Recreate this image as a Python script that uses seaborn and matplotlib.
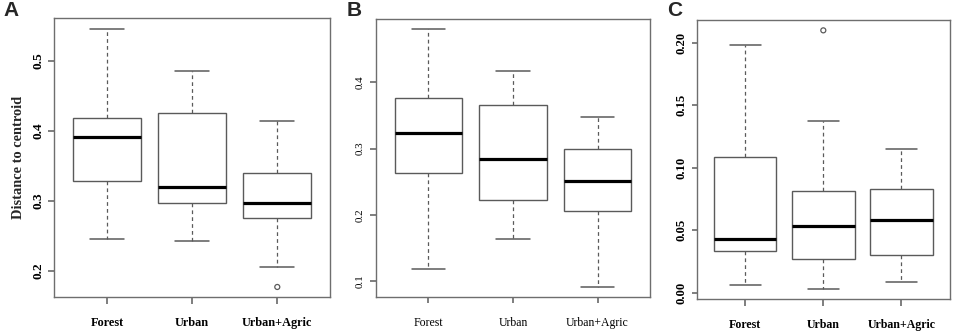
import numpy as np
import pandas as pd
import matplotlib.pyplot as plt
import seaborn as sns

groups = ['Forest', 'Urban', 'Urban+Agric']

# five-number summaries: low whisker, Q1, median, Q3, high whisker
a_low = [0.245, 0.243, 0.205]
a_q1 = [0.329, 0.297, 0.276]
a_med = [0.391, 0.320, 0.297]
a_q3 = [0.418, 0.425, 0.340]
a_high = [0.546, 0.486, 0.414]
a_out_grp = ['Urban+Agric']
a_out_val = [0.177]

b_low = [0.118, 0.163, 0.091]
b_q1 = [0.263, 0.222, 0.205]
b_med = [0.323, 0.284, 0.251]
b_q3 = [0.377, 0.366, 0.299]
b_high = [0.480, 0.417, 0.347]
b_out_grp = []
b_out_val = []

c_low = [0.0061, 0.0034, 0.0085]
c_q1 = [0.0336, 0.0274, 0.0304]
c_med = [0.0434, 0.0538, 0.0581]
c_q3 = [0.1088, 0.0813, 0.0834]
c_high = [0.1981, 0.1376, 0.1152]
c_out_grp = ['Urban']
c_out_val = [0.2098]

a_yticks = [0.2, 0.3, 0.4, 0.5]
b_yticks = [0.1, 0.2, 0.3, 0.4]
c_yticks = [0.00, 0.05, 0.10, 0.15, 0.20]

box_col = '#5a5a5a'
frame_col = '#6e6e6e'

sns.set_theme(style='ticks')
plt.rcParams['font.family'] = ['Liberation Serif', 'DejaVu Serif']

fig = plt.figure(figsize=(9.55, 3.33), dpi=100)


def draw_panel(rect, low, q1, med, q3, high, out_grp, out_val, yticks, fmt,
               weight, xsize, ysize):
    ax = fig.add_axes(rect)
    rows = []
    for g, vals in zip(groups, zip(low, q1, med, q3, high)):
        for v in vals:
            rows.append((g, v))
    df = pd.DataFrame(rows, columns=['group', 'value'])

    sns.boxplot(data=df, x='group', y='value', order=groups, whis=(0, 100),
                width=0.8, color='white', saturation=1, linecolor=box_col,
                linewidth=1.0, ax=ax,
                medianprops=dict(color='black', linewidth=2.3),
                whiskerprops=dict(linestyle=(0, (3, 2.5)), linewidth=0.9),
                capprops=dict(linewidth=1.1))

    if out_val:
        n_before = len(ax.collections)
        sns.stripplot(x=out_grp, y=out_val, order=groups, jitter=False,
                      size=3.6, color=box_col, linewidth=0.9, ax=ax)
        # hollow circles like R
        for pts in ax.collections[n_before:]:
            pts.set_facecolor('none')
            pts.set_edgecolor(box_col)

    # R style axis range: data range plus 4%
    allv = low + high + out_val
    span = max(allv) - min(allv)
    ax.set_ylim(min(allv) - 0.04 * span, max(allv) + 0.04 * span)
    ax.set_xlim(-0.62, 2.62)

    ax.set_yticks(yticks)
    ax.set_yticklabels([fmt.format(t) for t in yticks], rotation=90, va='center',
                       fontweight=weight, fontsize=ysize)
    ax.set_xticks(range(len(groups)))
    ax.set_xticklabels(groups, fontweight=weight, fontsize=xsize)
    ax.set_xlabel('')
    ax.set_ylabel('')
    for s in ax.spines.values():
        s.set_visible(True)
        s.set_color(frame_col)
        s.set_linewidth(1.0)
    ax.tick_params(axis='x', length=5, pad=9, color=frame_col, labelcolor='black')
    ax.tick_params(axis='y', length=4.3, pad=2.5, color=frame_col, labelcolor='black')
    return ax


ax_a = draw_panel([0.0569, 0.1072, 0.2887, 0.8378], a_low, a_q1, a_med, a_q3, a_high,
                  a_out_grp, a_out_val, a_yticks, '{:.1f}', 'bold', 8.8, 9.6)
ax_a.set_ylabel('Distance to centroid', fontweight='bold', fontsize=10.4)
ax_a.yaxis.set_label_coords(-0.105, 0.5)

ax_b = draw_panel([0.3937, 0.1072, 0.2869, 0.8358], b_low, b_q1, b_med, b_q3, b_high,
                  b_out_grp, b_out_val, b_yticks, '{:.1f}', 'normal', 8.5, 7.9)
ax_b.tick_params(axis='y', pad=4)
ax_b.tick_params(axis='x', length=4, pad=10)

ax_c = draw_panel([0.7295, 0.1021, 0.2652, 0.8378], c_low, c_q1, c_med, c_q3, c_high,
                  c_out_grp, c_out_val, c_yticks, '{:.2f}', 'bold', 8.6, 9.2)
ax_c.tick_params(axis='y', length=3.6, pad=3)
ax_c.tick_params(axis='x', pad=9.5)

for letter, x in [('A', 3), ('B', 347), ('C', 667)]:
    fig.text(x / 955, 1 - 1 / 333, letter, fontsize=15, fontweight='bold',
             family='Liberation Sans', ha='left', va='top')

fig.savefig('out.png', dpi=100)
